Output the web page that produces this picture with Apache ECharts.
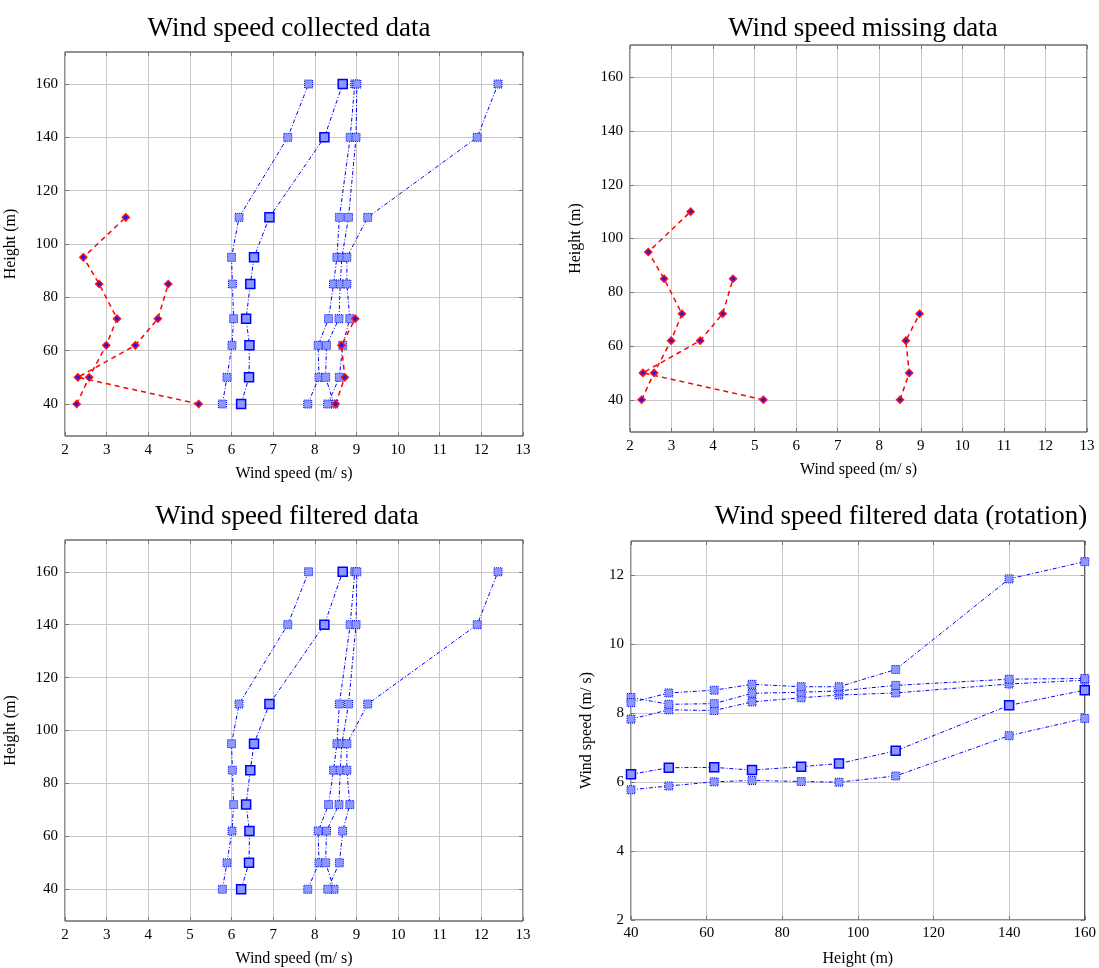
<!DOCTYPE html>
<html>
<head>
<meta charset="utf-8">
<script src="https://cdn.jsdelivr.net/npm/echarts@6/dist/echarts.min.js"></script>
<style>
  html, body { margin: 0; padding: 0; background: #ffffff; }
  #chart { width: 1099px; height: 968px; }
</style>
</head>
<body>
<div id="chart"></div>
<script>
// Measurement heights (m)
const heights = [40, 50, 62, 72, 85, 95, 110, 140, 160];

// Wind speed profiles (m/s), one value per height
const speedA = [5.78, 5.89, 6.01, 6.05, 6.02, 6.00, 6.18, 7.35, 7.85];
const speedB = [6.23, 6.42, 6.43, 6.35, 6.45, 6.54, 6.91, 8.23, 8.67];
const speedC = [7.83, 8.10, 8.08, 8.33, 8.45, 8.53, 8.59, 8.85, 8.96];
const speedD = [8.46, 8.26, 8.28, 8.58, 8.61, 8.65, 8.81, 8.99, 9.01];
const speedE = [8.31, 8.59, 8.67, 8.84, 8.77, 8.77, 9.27, 11.90, 12.40];

// Readings flagged as missing / invalid
const missHeights1 = [40, 50, 62, 72, 85, 95, 110];
const missSpeed1   = [2.28, 2.58, 2.99, 3.25, 2.82, 2.44, 3.46];
const missHeights2 = [40, 50, 62, 72, 85];
const missSpeed2   = [5.21, 2.31, 3.69, 4.23, 4.48];
const missHeights3 = [40, 50, 62, 72];
const missSpeed3   = [8.50, 8.72, 8.64, 8.97];

// Tick values
const speedTicks = [2, 3, 4, 5, 6, 7, 8, 9, 10, 11, 12, 13];
const heightTicks = [40, 60, 80, 100, 120, 140, 160];
const rotHeightTicks = [40, 60, 80, 100, 120, 140, 160];
const rotSpeedTicks = [2, 4, 6, 8, 10, 12];

const titles = [
  'Wind speed collected data',
  'Wind speed missing data',
  'Wind speed filtered data',
  'Wind speed filtered data (rotation)'
];
const speedLabel = 'Wind speed (m/ s)';
const heightLabel = 'Height (m)';

const FONT = '"Liberation Serif", "DejaVu Serif", serif';

const grids = [
  { left: 65,  top: 52,  width: 458, height: 384 },
  { left: 630, top: 45,  width: 457, height: 387 },
  { left: 65,  top: 540, width: 458, height: 384 },
  { left: 631, top: 541, width: 457, height: 385 }
].map(g => Object.assign({ show: true, borderColor: '#222', borderWidth: 1, backgroundColor: 'transparent', containLabel: false }, g));

const xAxes = [];
const yAxes = [];

// Each plot gets a labelled axis plus a mirrored one carrying inward ticks.
function addAxisPair(list, gridIndex, dim, cfg) {
  const pos = dim === 'x' ? ['bottom', 'top'] : ['left', 'right'];
  const tick = () => ({ show: true, inside: true, length: 4, customValues: cfg.ticks.slice(), lineStyle: { color: '#777', width: 1 } });
  const first = list.length;
  list.push({
    type: 'value', gridIndex, min: cfg.min, max: cfg.max, position: pos[0],
    axisLine: { show: false }, axisTick: tick(),
    axisLabel: { customValues: cfg.ticks.slice(), fontFamily: FONT, fontSize: 15, color: '#000', margin: cfg.margin },
    splitLine: { show: true, lineStyle: { color: '#c8c8c8', width: 1 } },
    name: cfg.name, nameLocation: 'middle', nameGap: cfg.nameGap,
    nameTextStyle: { fontFamily: FONT, fontSize: 16, color: '#000' }
  });
  list.push({
    type: 'value', gridIndex, min: cfg.min, max: cfg.max, position: pos[1],
    axisLine: { show: false }, axisTick: tick(),
    axisLabel: { show: false }, splitLine: { show: false }
  });
  return first;
}

const axisIdx = [];
// Plots 0-2: speed on x, height on y
for (let g = 0; g < 3; g++) {
  const xi = addAxisPair(xAxes, g, 'x', { min: 2, max: 13, ticks: speedTicks, name: speedLabel, nameGap: 30, margin: 7 });
  const yi = addAxisPair(yAxes, g, 'y', { min: 28, max: 172, ticks: heightTicks, name: heightLabel, nameGap: 46, margin: 7 });
  axisIdx.push([xi, yi]);
}
// Plot 3: height on x, speed on y
{
  const xi = addAxisPair(xAxes, 3, 'x', { min: 40, max: 160, ticks: rotHeightTicks, name: heightLabel, nameGap: 31, margin: 6 });
  const yi = addAxisPair(yAxes, 3, 'y', { min: 2, max: 13, ticks: rotSpeedTicks, name: speedLabel, nameGap: 36, margin: 7 });
  axisIdx.push([xi, yi]);
}

const BLUE = '#0000ff';
const FILL = '#8a98ff';

function profileSeries(plot, speeds, hs, rotated, style) {
  const [xi, yi] = axisIdx[plot];
  return Object.assign({
    type: 'line', xAxisIndex: xi, yAxisIndex: yi,
    data: hs.map((h, i) => rotated ? [h, speeds[i]] : [speeds[i], h]),
    animation: false, clip: false
  }, style);
}

function blueStyle(open) {
  return {
    symbol: 'rect',
    symbolSize: open ? 9 : 8,
    lineStyle: { color: BLUE, width: 1, type: [4, 2, 1, 2] },
    itemStyle: { color: FILL, borderColor: BLUE, borderWidth: open ? 1.5 : 1, borderType: open ? 'solid' : 'dotted' },
    z: 2
  };
}
const redStyle = {
  symbol: 'diamond',
  symbolSize: 7,
  lineStyle: { color: '#ff0000', width: 1.5, type: [5, 4] },
  itemStyle: { color: '#1a1aff', borderColor: '#ff1010', borderWidth: 1.5 },
  z: 3
};

const profiles = [speedA, speedB, speedC, speedD, speedE];
const missing = [[missSpeed1, missHeights1], [missSpeed2, missHeights2], [missSpeed3, missHeights3]];

const series = [];
// Collected: all profiles with the invalid readings on top
profiles.forEach((p, i) => series.push(profileSeries(0, p, heights, false, blueStyle(i === 1))));
missing.forEach(([s, h]) => series.push(profileSeries(0, s, h, false, redStyle)));
// Missing only
missing.forEach(([s, h]) => series.push(profileSeries(1, s, h, false, redStyle)));
// Filtered
profiles.forEach((p, i) => series.push(profileSeries(2, p, heights, false, blueStyle(i === 1))));
// Filtered, axes swapped
profiles.forEach((p, i) => series.push(profileSeries(3, p, heights, true, blueStyle(i === 1))));

const titleCenters = [[284, 10], [858, 10], [282, 498], [896, 498]];
const title = titles.map((t, i) => ({
  text: t, left: titleCenters[i][0], top: titleCenters[i][1], textAlign: 'center',
  textStyle: { fontFamily: FONT, fontSize: 27, fontWeight: 'normal', color: '#000' }
}));

const chart = echarts.init(document.getElementById('chart'));
chart.setOption({
  animation: false,
  backgroundColor: '#ffffff',
  title,
  grid: grids,
  xAxis: xAxes,
  yAxis: yAxes,
  series
});
</script>
</body>
</html>
